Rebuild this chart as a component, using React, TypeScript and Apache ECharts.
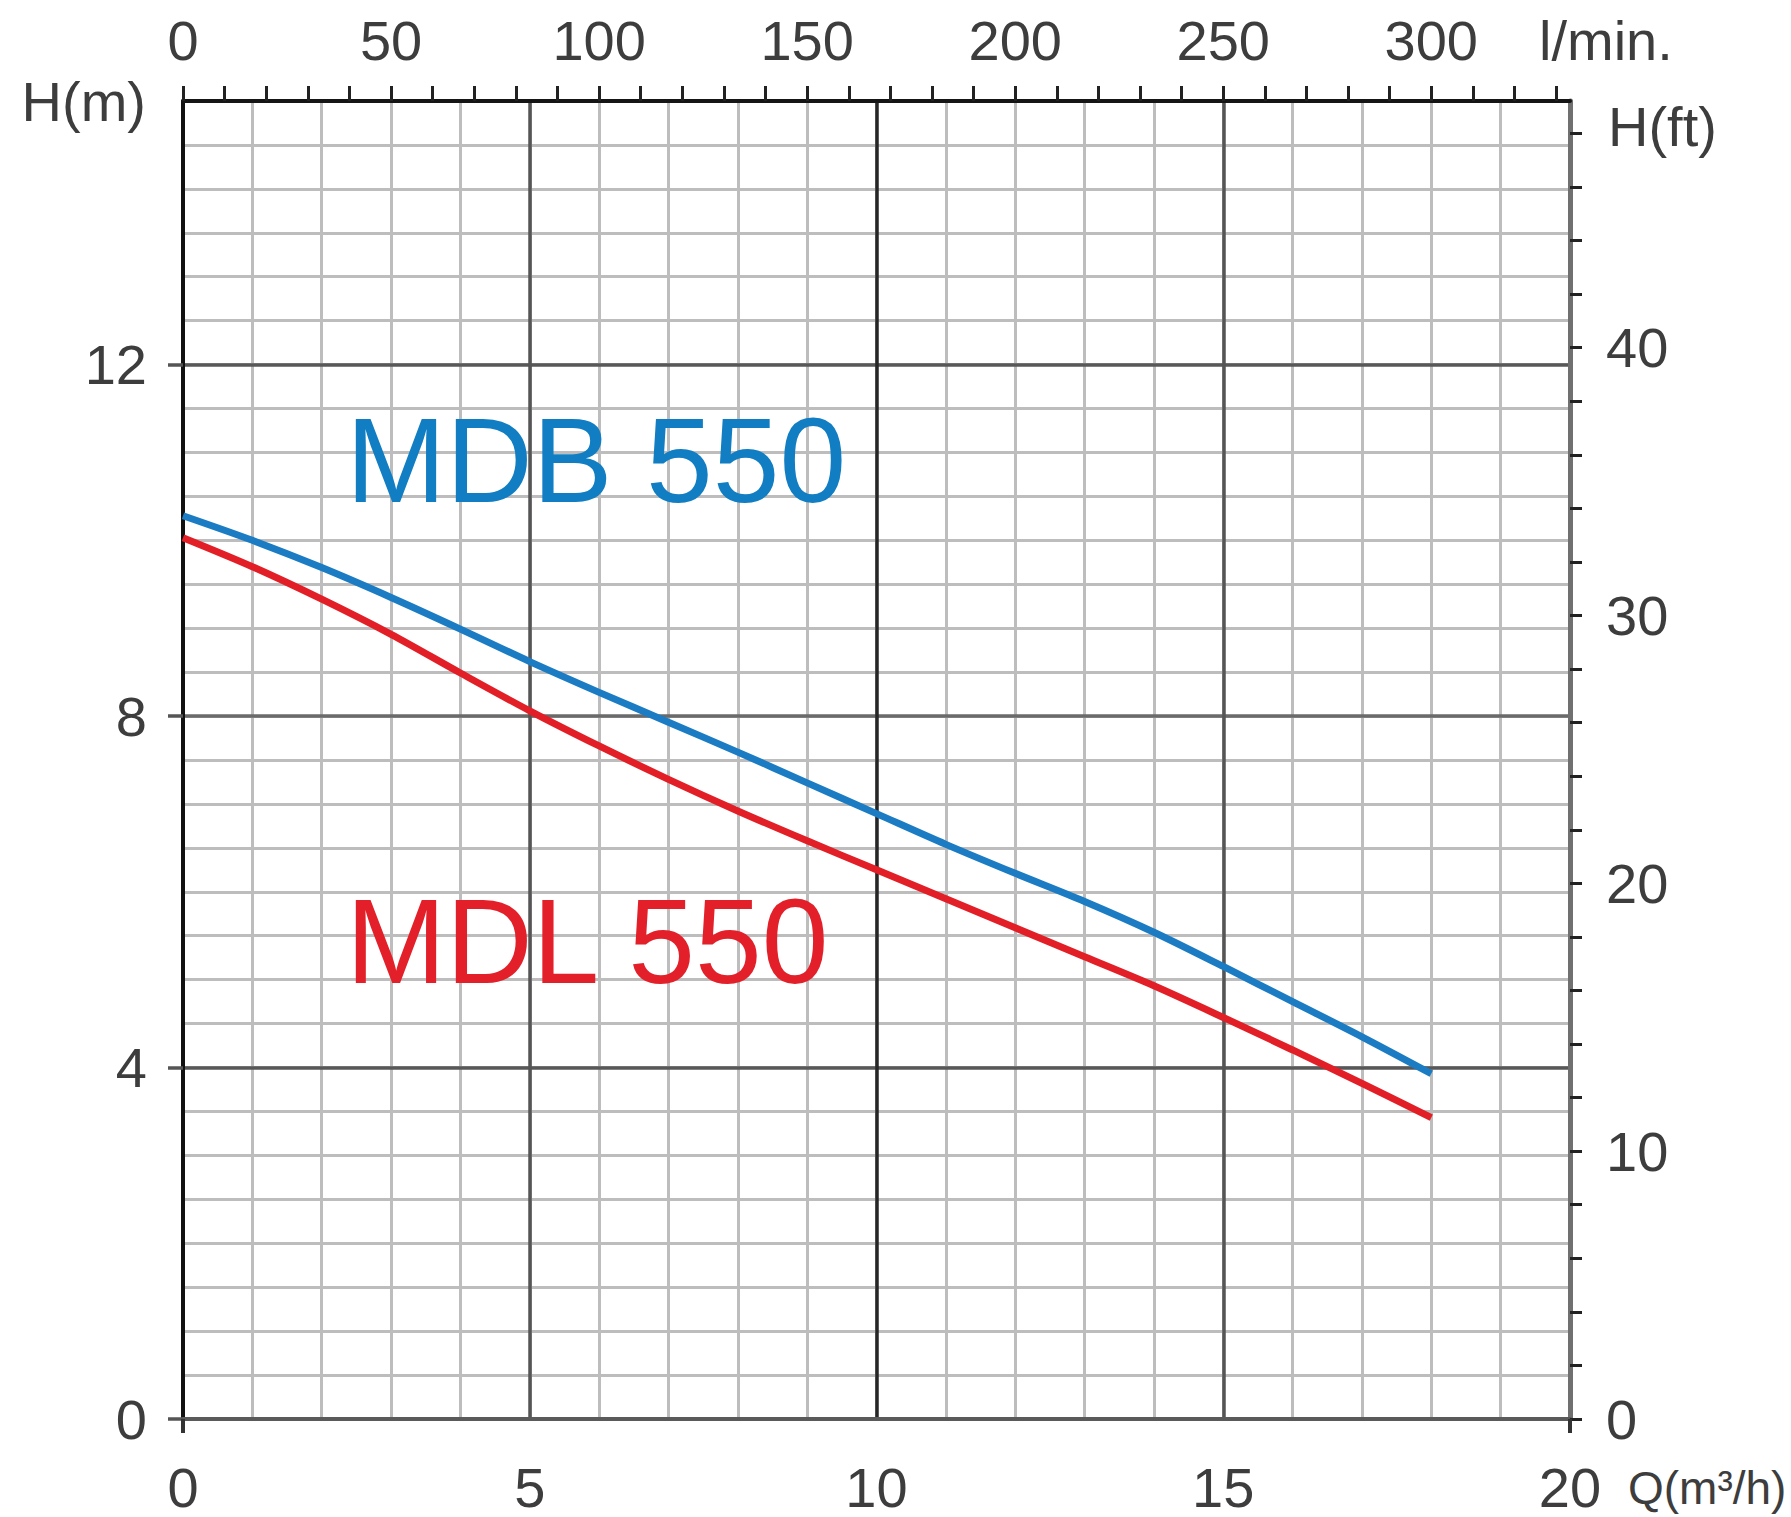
import React, { useEffect, useRef } from "react";
import * as echarts from "echarts";

// Flow rate Q (m³/h) sample points
const flowM3h = [0, 1, 2, 3, 4, 5, 6, 7, 8, 9, 10, 11, 12, 13, 14, 15, 16, 17, 18];
// Head H (m) for each pump
const headMDB550 = [10.28, 10.0, 9.69, 9.35, 8.99, 8.62, 8.27, 7.93, 7.59, 7.24, 6.89, 6.54, 6.21, 5.89, 5.54, 5.15, 4.75, 4.35, 3.93];
const headMDL550 = [10.03, 9.7, 9.33, 8.93, 8.49, 8.06, 7.66, 7.28, 6.92, 6.58, 6.25, 5.92, 5.59, 5.26, 4.93, 4.57, 4.2, 3.82, 3.43];

// Tick labels
const bottomLabels = [0, 5, 10, 15, 20];
const topLabels = [0, 50, 100, 150, 200, 250, 300];
const leftLabels = [0, 4, 8, 12];
const rightLabels = [0, 10, 20, 30, 40];

const Q_MAX = 20;
const H_MAX = 15;
const LMIN_MAX = (Q_MAX * 1000) / 60;
const FT_MAX = H_MAX / 0.3048;

const topTicks = Array.from({ length: 34 }, (_, i) => i * 10); // 0..330 l/min
const rightTicks = Array.from({ length: 25 }, (_, i) => i * 2); // 0..48 ft

const FONT = '"Liberation Sans", Arial, Helvetica, sans-serif';
const LABEL_COLOR = "#3d3d3d";
const MINOR = "#bdbdbd";

// colours of the major lines: vertical at Q = 0,5,10,15,20; horizontal at H = 0,4,8,12,15
const majorVertical = ["#555555", "#555555", "#262626", "#555555", "#555555"];
const majorHorizontal = ["#585858", "#585858", "#6a6a6a", "#585858", "#585858"];

export default function App() {
  const ref = useRef<HTMLDivElement>(null);

  useEffect(() => {
    if (!ref.current) return;
    const chart = echarts.init(ref.current, null, { renderer: "svg" });
    const labelBase = { fontSize: 56, color: LABEL_COLOR, fontFamily: FONT };
    const hidden = {
      axisLine: { show: false },
      axisTick: { show: false },
      axisLabel: { show: false },
    };
    chart.setOption({
      animation: false,
      backgroundColor: "#ffffff",
      grid: { left: 183, top: 101, width: 1387, height: 1318, containLabel: false },
      xAxis: [
        {
          type: "value",
          position: "bottom",
          min: 0,
          max: Q_MAX,
          interval: 1,
          z: 3,
          axisLine: { show: true, onZero: false, lineStyle: { color: "#5a5a5a", width: 4 } },
          axisTick: { show: true, customValues: [0, 20], length: 14, lineStyle: { color: "#333", width: 4 } },
          axisLabel: { ...labelBase, customValues: bottomLabels, margin: 40 },
          splitLine: { show: false },
        },
        {
          type: "value",
          position: "top",
          min: 0,
          max: LMIN_MAX,
          interval: 10,
          z: 3,
          axisLine: { show: true, onZero: false, lineStyle: { color: "#151515", width: 4 } },
          axisTick: { show: true, customValues: topTicks, length: 15, lineStyle: { color: "#222", width: 3 } },
          axisLabel: { ...labelBase, customValues: topLabels, margin: 33 },
          splitLine: { show: false },
        },
        {
          type: "value",
          position: "bottom",
          min: 0,
          max: Q_MAX,
          interval: 1,
          z: 0,
          ...hidden,
          splitLine: { show: true, lineStyle: { color: MINOR, width: 3 } },
        },
        {
          type: "value",
          position: "bottom",
          min: 0,
          max: Q_MAX,
          interval: 5,
          z: 1,
          ...hidden,
          splitLine: { show: true, lineStyle: { color: majorVertical, width: 3.5 } },
        },
      ],
      yAxis: [
        {
          type: "value",
          position: "left",
          min: 0,
          max: H_MAX,
          interval: 0.5,
          z: 3,
          axisLine: { show: true, onZero: false, lineStyle: { color: "#111", width: 4 } },
          axisTick: { show: true, customValues: leftLabels, length: 15, lineStyle: { color: "#555", width: 3.5 } },
          axisLabel: { ...labelBase, customValues: leftLabels, margin: 36 },
          splitLine: { show: false },
        },
        {
          type: "value",
          position: "right",
          min: 0,
          max: FT_MAX,
          interval: 2,
          z: 3,
          axisLine: { show: true, onZero: false, lineStyle: { color: "#707070", width: 5 } },
          axisTick: { show: true, customValues: rightTicks, length: 12, lineStyle: { color: "#222", width: 3 } },
          axisLabel: { ...labelBase, customValues: rightLabels, margin: 36 },
          splitLine: { show: false },
        },
        {
          type: "value",
          position: "left",
          min: 0,
          max: H_MAX,
          interval: 0.5,
          z: 0,
          ...hidden,
          splitLine: { show: true, lineStyle: { color: MINOR, width: 3 } },
        },
        {
          type: "value",
          position: "left",
          min: 0,
          max: H_MAX,
          interval: 4,
          z: 1,
          ...hidden,
          splitLine: { show: true, lineStyle: { color: majorHorizontal, width: 3.5 } },
        },
      ],
      series: [
        {
          name: "MDB 550",
          type: "line",
          xAxisIndex: 0,
          yAxisIndex: 0,
          data: flowM3h.map((q, i) => [q, headMDB550[i]]),
          smooth: 0.3,
          symbol: "none",
          lineStyle: { color: "#1b7cc3", width: 7 },
          z: 5,
        },
        {
          name: "MDL 550",
          type: "line",
          xAxisIndex: 0,
          yAxisIndex: 0,
          data: flowM3h.map((q, i) => [q, headMDL550[i]]),
          smooth: 0.3,
          symbol: "none",
          lineStyle: { color: "#e21f26", width: 7 },
          z: 5,
        },
      ],
      graphic: [
        {
          type: "text",
          x: 346,
          y: 460,
          z: 10,
          style: { text: "MDB 550", fill: "#117dc2", fontSize: 120, fontFamily: FONT, align: "left", verticalAlign: "middle" },
        },
        {
          type: "text",
          x: 346,
          y: 941,
          z: 10,
          style: { text: "MDL 550", fill: "#e3202a", fontSize: 120, fontFamily: FONT, align: "left", verticalAlign: "middle" },
        },
        {
          type: "text",
          x: 146,
          y: 101,
          style: { text: "H(m)", fill: LABEL_COLOR, fontSize: 56, fontFamily: FONT, align: "right", verticalAlign: "middle" },
        },
        {
          type: "text",
          x: 1539,
          y: 40,
          style: { text: "l/min.", fill: LABEL_COLOR, fontSize: 56, fontFamily: FONT, align: "left", verticalAlign: "middle" },
        },
        {
          type: "text",
          x: 1608,
          y: 126,
          style: { text: "H(ft)", fill: LABEL_COLOR, fontSize: 56, fontFamily: FONT, align: "left", verticalAlign: "middle" },
        },
        {
          type: "text",
          x: 1628,
          y: 1488,
          style: { text: "Q(m³/h)", fill: LABEL_COLOR, fontSize: 46, fontFamily: FONT, align: "left", verticalAlign: "middle" },
        },
      ],
    });
    return () => chart.dispose();
  }, []);

  return (
    <div
      ref={ref}
      style={{ position: "absolute", left: 0, top: 0, width: 1791, height: 1517, overflow: "hidden", background: "#fff" }}
    />
  );
}
